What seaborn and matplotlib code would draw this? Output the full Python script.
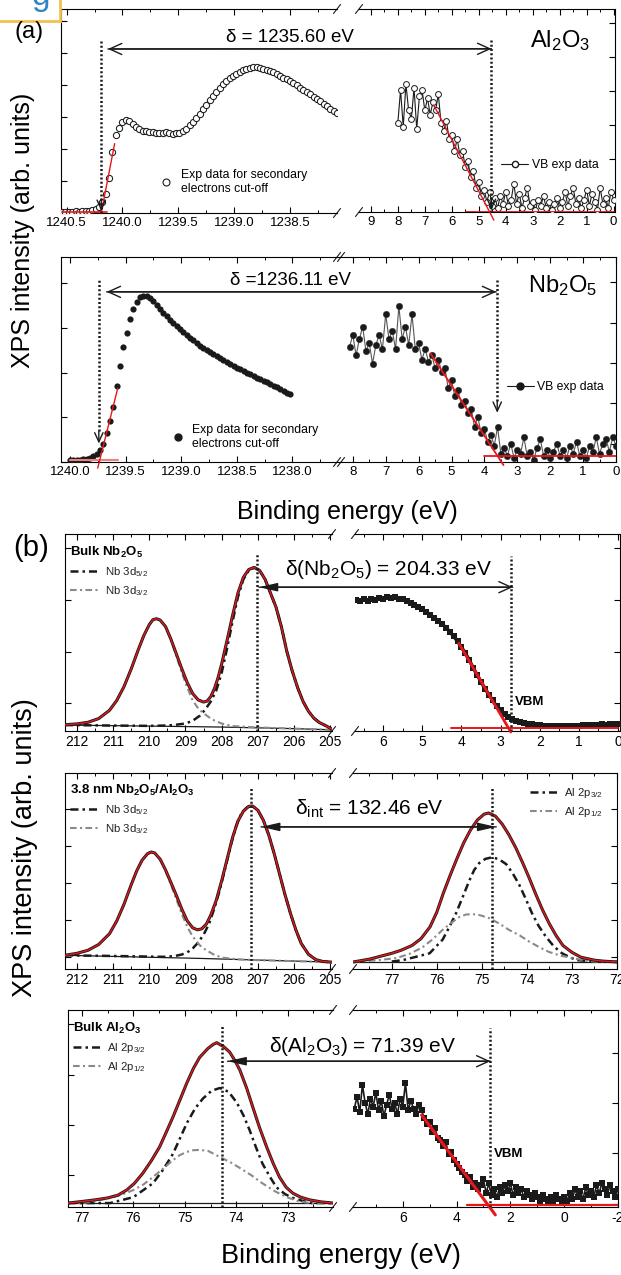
import numpy as np
import matplotlib
matplotlib.use("Agg")
import matplotlib.pyplot as plt
import seaborn as sns
from matplotlib.patches import ConnectionPatch, Rectangle
from matplotlib.lines import Line2D
from matplotlib.ticker import MultipleLocator, FormatStrFormatter, NullLocator

# ---------------------------------------------------------------- data
# (a) top: Al2O3 secondary electron cut-off (binding energy, eV)
al_cut_x = np.round(np.arange(1240.54, 1238.06, -0.03), 2)
al_cut_y = [0.6, 0.5, 0.7, 0.6, 0.8, 0.7, 0.9, 0.8, 1.0, 1.3,
            1.8, 2.8, 5.4, 9.3, 17.0, 30.0, 38.0, 41.7, 44.6, 45.6,
            45.0, 43.5, 42.0, 41.0, 40.3, 40.0, 39.6, 39.5, 39.3, 39.4,
            39.0, 39.5, 39.2, 38.8, 39.0, 39.4, 40.0, 41.3, 43.0, 44.8,
            46.5, 48.5, 50.8, 53.0, 55.3, 57.3, 59.4, 61.5, 63.0, 64.5,
            66.0, 67.3, 68.3, 69.2, 70.0, 70.7, 71.2, 71.6, 71.5, 71.0,
            70.6, 70.2, 69.6, 68.9, 68.2, 67.4, 66.3, 65.5, 64.5, 63.5,
            62.5, 61.3, 60.4, 59.2, 58.2, 57.0, 56.0, 55.0, 53.6, 52.4,
            51.0, 49.8, 48.8]
al_cut_fit_x = [1240.19, 1240.07]
al_cut_fit_y = [0.0, 34.0]
al_cut_base_x = [1240.54, 1240.14]
al_cut_base_y = [0.6, 0.6]
al_cut_onset = 1240.19

# (a) top: Al2O3 valence band
al_vb_x = np.round(np.arange(8.0, -0.05, -0.1), 1)
al_vb_y = [44, 60, 42, 63, 50, 46, 61, 41, 57, 60,
           50, 56, 48, 54, 50, 58, 44, 40, 45, 36,
           38, 30, 36, 28, 30, 22, 25, 17, 20, 12,
           15, 8, 11, 5, 10, 3, 7, 2, 8, 4,
           10, 3, 6, 14, 4, 9, 2, 7, 12, 3,
           5, 1, 6, 3, 8, 2, 5, 1, 4, 7,
           2, 5, 10, 3, 8, 12, 4, 7, 2, 6,
           11, 3, 9, 5, 1, 12, 4, 7, 2, 10,
           6]
al_vb_fit_x = [6.67, 4.44]
al_vb_fit_y = [52.7, -4.0]
al_vb_base_x = [5.48, 0.0]
al_vb_base_y = [0.2, 0.2]
al_vbm = 4.53

# (a) bottom: Nb2O5 secondary electron cut-off
nb_cut_x = np.round(np.arange(1240.0, 1237.99, -0.03), 2)
nb_cut_y = [1.0, 1.0, 1.1, 1.2, 1.3, 1.5, 2.0, 2.8, 4.0, 6.0,
            9.0, 14.0, 20.0, 27.0, 37.0, 47.0, 56.0, 63.0, 70.0, 74.5,
            78.0, 80.3, 81.2, 81.0, 80.0, 78.3, 76.5, 74.5, 72.8, 71.0,
            69.3, 67.7, 66.2, 64.7, 63.2, 61.9, 60.6, 59.3, 58.0, 56.8,
            55.7, 54.6, 53.5, 52.5, 51.5, 50.5, 49.6, 48.7, 47.8, 46.9,
            46.0, 45.2, 44.4, 43.6, 42.8, 42.0, 41.2, 40.4, 39.6, 38.8,
            38.0, 37.2, 36.4, 35.6, 34.8, 33.8, 33.0]
nb_cut_fit_x = [1239.75, 1239.57]
nb_cut_fit_y = [-3.0, 36.0]
nb_cut_base_x = [1240.0, 1239.57]
nb_cut_base_y = [1.0, 1.0]
nb_cut_onset = 1239.74

# (a) bottom: Nb2O5 valence band
nb_vb_x = np.round(np.arange(8.1, -0.05, -0.1), 1)
nb_vb_y = [56, 62, 52, 60, 66, 54, 58, 48, 57, 62,
           55, 72, 60, 64, 55, 76, 60, 66, 57, 72,
           55, 58, 50, 55, 49, 52, 46, 50, 44, 46,
           36, 40, 32, 35, 28, 30, 24, 26, 17, 22,
           14, 16, 10, 13, 8, 17, 4, 7, 3, 9,
           2, 6, 4, 12, 3, 5, 1, 7, 11, 3,
           6, 2, 5, 9, 3, 6, 2, 8, 4, 10,
           3, 6, 2, 8, 5, 12, 4, 9, 11, 5,
           12, 8]
nb_vb_fit_x = [5.64, 3.42]
nb_vb_fit_y = [53.0, -1.5]
nb_vb_base_x = [4.0, 0.0]
nb_vb_base_y = [3.0, 3.0]
nb_vbm = 3.61

# (b) row 1: bulk Nb2O5 Nb 3d
nb_bulk_env_x = [212.33, 212.0, 211.7, 211.4, 211.1, 210.9, 210.7, 210.5, 210.3, 210.15,
                 210.0, 209.9, 209.8, 209.7, 209.55, 209.4, 209.25, 209.1, 208.95, 208.8,
                 208.65, 208.5, 208.4, 208.3, 208.2, 208.1, 208.0, 207.85, 207.7, 207.55,
                 207.4, 207.25, 207.1, 206.95, 206.8, 206.65, 206.5, 206.35, 206.2, 206.05,
                 205.9, 205.75, 205.6, 205.45, 205.3, 205.1, 204.95]
nb_bulk_env_y = [3.2, 3.6, 4.4, 6.3, 10.5, 15.5, 22.5, 31.5, 41.5, 48.5,
                 54.0, 56.5, 57.0, 56.3, 53.0, 46.5, 39.0, 31.5, 24.5, 19.0,
                 15.8, 14.7, 15.2, 17.5, 21.5, 27.0, 34.0, 46.0, 58.5, 70.0,
                 78.0, 82.0, 83.0, 81.5, 77.0, 70.0, 63.0, 53.0, 40.5, 30.5,
                 22.0, 15.0, 10.0, 6.5, 4.3, 2.5, 0.8]
nb_bulk_bg_x = [212.33, 210.0, 208.0, 206.0, 204.95]
nb_bulk_bg_y = [3.0, 2.5, 2.0, 1.2, 0.6]
nb_bulk_d52_x = [212.33, 210.0, 209.5, 209.3, 209.0, 208.8, 208.6, 208.45, 208.3, 208.15,
                 208.0, 207.85, 207.7, 207.55, 207.4, 207.25, 207.1, 206.95, 206.8, 206.65,
                 206.5, 206.35, 206.2, 206.05, 205.9, 205.75, 205.6, 205.45, 205.3, 205.1,
                 204.95]
nb_bulk_d52_y = [3.0, 2.6, 2.8, 3.1, 3.8, 5.2, 7.8, 11.0, 15.0, 20.5,
                 29.5, 42.0, 55.5, 68.0, 77.0, 81.5, 83.0, 81.5, 77.0, 70.0,
                 63.0, 53.0, 40.5, 30.5, 22.0, 15.0, 10.0, 6.5, 4.3, 2.5,
                 0.8]
nb_bulk_d32_x = [212.33, 212.0, 211.7, 211.4, 211.1, 210.9, 210.7, 210.5, 210.3, 210.15,
                 210.0, 209.9, 209.8, 209.7, 209.55, 209.4, 209.25, 209.1, 208.95, 208.8,
                 208.65, 208.5, 208.35, 208.2, 208.0, 207.7, 207.0, 206.0, 204.95]
nb_bulk_d32_y = [3.2, 3.6, 4.4, 6.3, 10.5, 15.5, 22.5, 31.5, 41.5, 48.5,
                 54.0, 56.5, 57.0, 56.3, 52.8, 46.0, 38.0, 29.5, 22.0, 15.5,
                 11.5, 9.0, 7.0, 5.3, 3.8, 2.5, 1.8, 1.2, 0.6]
nb_bulk_peak = 207.03

# (b) row 1: bulk Nb2O5 valence band
nbb_vb_x = np.round(np.arange(6.7, -0.05, -0.1), 1)
nbb_vb_y = [66.5, 66.0, 66.8, 66.2, 67.0, 66.5, 67.4, 66.9, 67.8, 67.5,
            68.0, 67.2, 66.8, 66.0, 65.0, 64.0, 62.8, 61.8, 60.5, 59.0,
            57.5, 56.0, 54.5, 52.5, 50.5, 48.0, 45.5, 42.5, 39.5, 36.0,
            32.0, 28.5, 25.0, 21.5, 18.5, 15.5, 12.5, 10.5, 8.5, 7.0,
            6.0, 5.0, 4.5, 4.0, 3.6, 3.3, 3.0, 2.8, 2.7, 2.5,
            2.6, 2.4, 2.5, 2.4, 2.6, 2.5, 2.7, 2.6, 2.9, 2.8,
            3.0, 3.1, 3.0, 3.3, 3.2, 3.5, 3.4, 3.6]
nbb_vb_fit_x = [4.07, 2.74]
nbb_vb_fit_y = [44.6, -0.5]
nbb_vb_base_x = [4.28, 0.0]
nbb_vb_base_y = [1.7, 1.7]
nbb_vbm = 2.74

# (b) row 2: 3.8 nm Nb2O5/Al2O3, Nb 3d
nb_int_env_x = [212.33, 212.0, 211.7, 211.4, 211.1, 210.9, 210.7, 210.5, 210.35, 210.2,
                210.05, 209.95, 209.85, 209.7, 209.55, 209.4, 209.25, 209.1, 208.95, 208.8,
                208.67, 208.55, 208.42, 208.3, 208.15, 208.0, 207.85, 207.7, 207.55, 207.4,
                207.25, 207.15, 207.0, 206.85, 206.7, 206.55, 206.4, 206.25, 206.1, 205.95,
                205.8, 205.6, 205.4, 205.2, 204.95]
nb_int_env_y = [7.0, 8.0, 9.5, 12.5, 18.0, 24.5, 33.0, 43.0, 50.0, 55.5,
                58.8, 59.7, 59.2, 56.0, 50.5, 44.0, 37.5, 30.5, 24.5, 21.0,
                20.0, 20.5, 23.0, 27.5, 35.0, 45.0, 56.0, 67.0, 75.5, 80.5,
                83.0, 83.2, 81.0, 76.0, 68.5, 59.0, 48.5, 38.0, 28.5, 20.0,
                13.0, 7.5, 4.8, 3.8, 3.5]
nb_int_bg_x = [212.33, 208.6, 204.95]
nb_int_bg_y = [7.0, 5.4, 3.5]
nb_int_d52_x = [212.33, 210.5, 209.6, 209.3, 209.1, 208.95, 208.8, 208.65, 208.5, 208.35,
                208.2, 208.05, 207.9, 207.75, 207.6, 207.45, 207.3, 207.15, 207.0, 206.85,
                206.7, 206.55, 206.4, 206.25, 206.1, 205.95, 205.8, 205.6, 205.4, 205.2,
                204.95]
nb_int_d52_y = [7.0, 6.5, 6.2, 6.6, 7.4, 8.5, 10.5, 13.5, 17.5, 23.0,
                31.0, 40.5, 51.5, 63.0, 73.0, 79.5, 82.5, 83.2, 81.0, 76.0,
                68.5, 59.0, 48.5, 38.0, 28.5, 20.0, 13.0, 7.5, 4.8, 3.8,
                3.5]
nb_int_d32_x = [212.33, 212.0, 211.7, 211.4, 211.1, 210.9, 210.7, 210.5, 210.35, 210.2,
                210.05, 209.95, 209.85, 209.7, 209.55, 209.4, 209.25, 209.1, 208.95, 208.8,
                208.6, 208.42, 208.2, 207.98, 207.6, 207.0, 206.0, 204.95]
nb_int_d32_y = [7.0, 8.0, 9.5, 12.5, 18.0, 24.5, 33.0, 43.0, 50.0, 55.5,
                58.8, 59.7, 59.2, 56.0, 50.0, 43.0, 35.5, 28.0, 21.5, 16.5,
                12.0, 9.5, 7.2, 5.8, 5.0, 4.5, 4.0, 3.5]
nb_int_peak = 207.18

# (b) row 2: 3.8 nm Nb2O5/Al2O3, Al 2p
al_int_env_x = [77.85, 77.5, 77.2, 77.0, 76.8, 76.55, 76.35, 76.15, 76.0, 75.85,
                75.7, 75.55, 75.4, 75.25, 75.1, 74.95, 74.85, 74.7, 74.55, 74.4,
                74.25, 74.1, 73.95, 73.8, 73.65, 73.5, 73.35, 73.2, 73.0, 72.8,
                72.5, 72.3, 72.0]
al_int_env_y = [3.6, 5.0, 6.8, 8.0, 9.5, 12.0, 15.5, 21.5, 29.0, 39.0,
                48.0, 56.5, 64.5, 71.0, 76.0, 79.0, 79.6, 78.0, 74.0, 68.5,
                62.0, 54.5, 46.5, 38.0, 30.0, 23.0, 17.0, 12.0, 8.5, 6.0,
                4.5, 4.0, 3.6]
al_int_bg_x = [77.85, 72.0]
al_int_bg_y = [3.6, 3.6]
al_int_p32_x = [77.0, 76.76, 76.5, 76.16, 75.87, 75.72, 75.57, 75.42, 75.28, 75.17,
                75.06, 74.92, 74.77, 74.62, 74.46, 74.32, 74.17, 74.03, 73.89, 73.74,
                73.58, 73.4, 73.22, 73.0, 72.86, 72.5, 72.0]
al_int_p32_y = [3.8, 4.5, 6.0, 8.0, 15.0, 21.5, 28.6, 37.0, 45.0, 50.5,
                54.0, 56.2, 57.0, 56.0, 53.5, 49.0, 43.0, 36.0, 28.6, 22.0,
                16.5, 11.5, 8.0, 5.5, 4.5, 3.8, 3.6]
al_int_p12_x = [77.85, 77.3, 76.89, 76.6, 76.32, 76.1, 75.87, 75.68, 75.5, 75.35,
                75.21, 75.05, 74.84, 74.6, 74.4, 74.15, 73.95, 73.73, 73.51, 73.25,
                73.0, 72.75, 72.5, 72.0]
al_int_p12_y = [3.6, 4.5, 5.6, 7.8, 11.0, 15.0, 20.0, 23.5, 26.5, 27.8,
                28.0, 27.5, 26.0, 23.0, 20.0, 17.0, 14.0, 11.2, 8.7, 6.8,
                5.6, 4.5, 3.8, 3.6]
al_int_peak = 74.77
al_int_arrow = 74.68

# (b) row 3: bulk Al2O3, Al 2p
al_bulk_env_x = [77.27, 77.0, 76.75, 76.5, 76.3, 76.13, 75.98, 75.82, 75.65, 75.49,
                 75.36, 75.23, 75.1, 74.96, 74.83, 74.71, 74.55, 74.45, 74.38, 74.25,
                 74.13, 74.03, 73.93, 73.8, 73.68, 73.55, 73.41, 73.28, 73.16, 73.03,
                 72.9, 72.75, 72.57, 72.35, 72.12]
al_bulk_env_y = [2.0, 2.8, 3.6, 4.6, 6.0, 8.6, 12.0, 17.0, 23.5, 30.5,
                 38.0, 45.7, 54.0, 63.0, 70.5, 76.0, 80.5, 82.5, 83.4, 81.5,
                 78.7, 74.5, 69.5, 60.5, 50.8, 40.5, 30.5, 22.0, 15.2, 10.0,
                 7.0, 5.0, 3.6, 2.6, 2.0]
al_bulk_bg_x = [77.27, 72.12]
al_bulk_bg_y = [2.0, 2.0]
al_bulk_p32_x = [77.27, 76.45, 76.0, 75.62, 75.42, 75.23, 75.1, 74.96, 74.8, 74.65,
                 74.48, 74.32, 74.15, 73.99, 73.86, 73.74, 73.62, 73.49, 73.35, 73.22,
                 73.05, 72.9, 72.7, 72.54, 72.12]
al_bulk_p32_y = [2.0, 2.0, 5.0, 12.0, 19.0, 27.0, 34.5, 42.6, 50.0, 55.0,
                 59.0, 60.4, 58.5, 53.0, 46.5, 39.0, 30.5, 22.0, 15.5, 10.0,
                 6.5, 4.6, 3.0, 2.0, 2.0]
al_bulk_p12_x = [77.27, 76.98, 76.7, 76.45, 76.2, 76.0, 75.8, 75.62, 75.42, 75.23,
                 75.1, 74.96, 74.84, 74.71, 74.55, 74.32, 74.1, 73.93, 73.7, 73.49,
                 73.25, 73.02, 72.8, 72.57, 72.12]
al_bulk_p12_y = [2.0, 2.0, 3.2, 4.6, 6.5, 8.6, 11.5, 15.2, 19.5, 23.8,
                 26.3, 28.0, 28.8, 29.0, 28.5, 25.4, 22.5, 19.8, 16.0, 12.0,
                 8.0, 5.0, 3.0, 2.0, 2.0]
al_bulk_peak = 74.28

# (b) row 3: bulk Al2O3 valence band
alb_vb_x = np.round(np.arange(7.8, -2.05, -0.1), 1)
alb_vb_y = [50, 56, 48, 62, 53, 47, 55, 51, 58, 49,
            54, 46, 52, 57, 50, 53, 47, 55, 51, 63,
            49, 54, 50, 47, 52, 49, 45, 42, 43, 38,
            40, 35, 34, 31, 33, 27, 28, 24, 22, 20,
            18, 16, 13, 15, 10, 12, 9, 11, 14, 7,
            12, 6, 9, 5, 10, 7, 11, 8, 12, 6,
            10, 7, 9, 5, 8, 6, 4, 7, 5, 3,
            6, 4, 2, 5, 3, 6, 4, 2, 5, 3,
            7, 4, 9, 5, 8, 4, 10, 6, 8, 5,
            11, 7, 12, 9, 6, 11, 8, 5, 9]
alb_vb_fit_x = [5.3, 2.56]
alb_vb_fit_y = [46.7, -4.0]
alb_vb_base_x = [3.6, -2.0]
alb_vb_base_y = [1.0, 1.0]
alb_vbm = 2.74

# ---------------------------------------------------------------- style
sns.set_theme(style="ticks")
plt.rcParams["font.family"] = ["Liberation Sans", "DejaVu Sans"]
plt.rcParams["mathtext.fontset"] = "custom"
plt.rcParams["mathtext.rm"] = "Liberation Sans"
plt.rcParams["mathtext.it"] = "Liberation Sans:italic"
plt.rcParams["mathtext.bf"] = "Liberation Sans:bold"
plt.rcParams["axes.linewidth"] = 0.8
plt.rcParams["axes.edgecolor"] = "black"
plt.rcParams["text.color"] = "black"
plt.rcParams["xtick.color"] = "black"
plt.rcParams["ytick.color"] = "black"

RED = "#e8161b"
GRAY = "#8a8a8a"
DASHDOT = (0, (3.2, 1.6, 1.0, 1.6))

W, H = 621, 1275
fig = plt.figure(figsize=(W / 100, H / 100), dpi=100)


def box(l, t, r, b):
    return [l / W, 1 - b / H, (r - l) / W, (b - t) / H]


def fx(px):
    return px / W


def fy(py):
    return 1 - py / H


axA1L = fig.add_axes(box(61, 9, 337, 213))
axA1R = fig.add_axes(box(359, 9, 615, 212))
axA2L = fig.add_axes(box(61, 257, 337, 462))
axA2R = fig.add_axes(box(338, 257, 616, 462))
axB1L = fig.add_axes(box(65, 534, 332, 731))
axB1R = fig.add_axes(box(355, 534, 620, 731))
axB2L = fig.add_axes(box(65, 773, 332, 969))
axB2R = fig.add_axes(box(353, 773, 617, 969))
axB3L = fig.add_axes(box(68, 1010, 333, 1207))
axB3R = fig.add_axes(box(353, 1010, 618, 1207))


def style(ax, side, xlim, major, minor, fmt, fs, ystep, yoff):
    ax.set_xlim(*xlim)
    ax.set_ylim(0, 100)
    ax.xaxis.set_major_locator(MultipleLocator(major))
    ax.xaxis.set_minor_locator(MultipleLocator(minor))
    ax.xaxis.set_major_formatter(FormatStrFormatter(fmt))
    ax.yaxis.set_major_locator(MultipleLocator(ystep, offset=yoff))
    ax.yaxis.set_minor_locator(NullLocator())
    ax.tick_params(axis="x", which="both", direction="in", top=True, bottom=True,
                   labelsize=fs, pad=3)
    ax.tick_params(which="major", length=4, width=0.8)
    ax.tick_params(which="minor", length=2.2, width=0.7)
    if side == "left":
        ax.spines["right"].set_visible(False)
        ax.tick_params(axis="y", direction="in", left=True, right=False,
                       labelleft=False, labelright=False)
    else:
        ax.spines["left"].set_visible(False)
        ax.tick_params(axis="y", direction="in", left=False, right=True,
                       labelleft=False, labelright=False)
    for sp in ax.spines.values():
        sp.set_color("black")
    ax.set_xlabel("")
    ax.set_ylabel("")
    ax.patch.set_alpha(0)


def brk(ax, where, shift_px=0):
    bb = ax.get_position()
    wpx, hpx = bb.width * W, bb.height * H
    dx, dy = 3.5 / wpx, 4.5 / hpx
    x0 = (1.0 if where == "right" else 0.0) + shift_px / wpx
    for y0 in (0.0, 1.0):
        ax.plot([x0 - dx, x0 + dx], [y0 - dy, y0 + dy], transform=ax.transAxes,
                color="k", lw=0.8, clip_on=False)


style(axA1L, "left", (1240.55, 1238.08), 0.5, 0.25, "%.1f", 9.5, 15.7, 0)
style(axA1R, "right", (9.44, -0.05), 1, 0.5, "%g", 9.5, 16.75, 9.4)
style(axA2L, "left", (1240.08, 1237.6), 0.5, 0.25, "%.1f", 9.5, 21.8, 0)
style(axA2R, "right", (8.45, 0.0), 1, 0.5, "%g", 9.5, 19.7, 8.9)
style(axB1L, "left", (212.33, 204.95), 1, 0.5, "%g", 10, 26.3, 14)
style(axB1R, "right", (6.72, -0.05), 1, 0.5, "%g", 10, 26.3, 14)
style(axB2L, "left", (212.33, 204.95), 1, 0.5, "%g", 10, 18.9, 6)
style(axB2R, "right", (77.86, 72.0), 1, 0.5, "%g", 10, 18.9, 6)
style(axB3L, "left", (77.27, 72.12), 1, 0.5, "%g", 10, 25.6, 16)
style(axB3R, "right", (7.85, -2.0), 2, 1, "%g", 10, 25.6, 1.6)

for axl, axr in ((axA1L, axA1R), (axB1L, axB1R), (axB2L, axB2R), (axB3L, axB3R)):
    brk(axl, "right")
    brk(axr, "left")
brk(axA2L, "right")
brk(axA2R, "left", shift_px=3)


def line(ax, x, y, **kw):
    sns.lineplot(x=np.asarray(x, float), y=np.asarray(y, float), ax=ax,
                 sort=False, estimator=None, legend=False, **kw)


def vdot(ax, x, ytop, ybot=0.0, lw=1.8):
    ax.vlines(x, ybot, ytop, colors="k", linestyles=(0, (0.8, 0.9)), lw=lw, zorder=6)


def down_tip(ax, x, ytip):
    ax.annotate("", xy=(x, ytip), xytext=(x, ytip + 6),
                arrowprops=dict(arrowstyle="->,head_length=0.55,head_width=0.25",
                                lw=1.0, color="k", shrinkA=0, shrinkB=0,
                                mutation_scale=12), zorder=7)


def harrow(axL, xL, axR, xR, y, left="open", right="open"):
    lst = "<|-,head_length=0.7,head_width=0.16" if left == "filled" else "<-,head_length=0.55,head_width=0.25"
    rst = "-|>,head_length=0.7,head_width=0.16" if right == "filled" else "->,head_length=0.55,head_width=0.25"
    for st in (lst, rst):
        con = ConnectionPatch(xyA=(xL, y), xyB=(xR, y), coordsA="data", coordsB="data",
                              axesA=axL, axesB=axR, arrowstyle=st, mutation_scale=16,
                              lw=1.0, color="k", shrinkA=0, shrinkB=0, zorder=8)
        fig.add_artist(con)


# ---------------------------------------------------------------- (a) top
sns.scatterplot(x=al_cut_x, y=al_cut_y, ax=axA1L, marker="o", s=20, color="white",
                edgecolor="k", linewidth=0.75, zorder=3, legend=False)
line(axA1L, al_cut_base_x, al_cut_base_y, color=RED, lw=1.2, zorder=4)
line(axA1L, al_cut_fit_x, al_cut_fit_y, color=RED, lw=1.0, zorder=4, clip_on=False)
vdot(axA1L, al_cut_onset, 84.8)
down_tip(axA1L, al_cut_onset, 1.0)

line(axA1R, al_vb_x, al_vb_y, color="k", lw=0.8, marker="o", markersize=4.2,
     markerfacecolor="white", markeredgecolor="k", markeredgewidth=0.7, zorder=3)
line(axA1R, al_vb_base_x, al_vb_base_y, color=RED, lw=1.3, zorder=4)
line(axA1R, al_vb_fit_x, al_vb_fit_y, color=RED, lw=1.0, zorder=4, clip_on=False)
vdot(axA1R, al_vbm, 85.7)
down_tip(axA1R, al_vbm, 1.0)
harrow(axA1L, 1240.13, axA1R, al_vbm, 80.4)

axA1L.legend(handles=[Line2D([], [], ls="none", marker="o", markersize=5,
                             markerfacecolor="white", markeredgecolor="k", markeredgewidth=0.8)],
             labels=["Exp data for secondary\nelectrons cut-off"], loc="upper left",
             bbox_to_anchor=(0.36, 0.215), frameon=False, fontsize=8.8,
             handlelength=1.0, handletextpad=0.7, borderpad=0, borderaxespad=0)
axA1R.legend(handles=[Line2D([], [], color="k", lw=0.8, marker="o", markersize=4.5,
                             markerfacecolor="white", markeredgecolor="k")],
             labels=["VB exp data"], loc="center left", bbox_to_anchor=(0.555, 0.232),
             frameon=False, fontsize=8.8, handlelength=2.2, handletextpad=0.3,
             borderpad=0, borderaxespad=0)

# ---------------------------------------------------------------- (a) bottom
sns.scatterplot(x=nb_cut_x, y=nb_cut_y, ax=axA2L, marker="o", s=20, color="k",
                linewidth=0, zorder=3, legend=False)
line(axA2L, nb_cut_base_x, nb_cut_base_y, color="#f07f7f", lw=1.5, zorder=4)
line(axA2L, nb_cut_fit_x, nb_cut_fit_y, color=RED, lw=1.0, zorder=4, clip_on=False)
vdot(axA2L, nb_cut_onset, 89.0, 15.0)
down_tip(axA2L, nb_cut_onset, 9.0)

line(axA2R, nb_vb_x, nb_vb_y, color="#555555", lw=0.8, marker="o", markersize=4.6,
     markerfacecolor="k", markeredgecolor="k", markeredgewidth=0.3, zorder=3)
line(axA2R, nb_vb_base_x, nb_vb_base_y, color=RED, lw=1.3, zorder=4)
line(axA2R, nb_vb_fit_x, nb_vb_fit_y, color=RED, lw=1.3, zorder=4, clip_on=False)
vdot(axA2R, nb_vbm, 89.0, 30.0)
down_tip(axA2R, nb_vbm, 24.0)
harrow(axA2L, 1239.67, axA2R, 3.64, 83.0)

axA2L.legend(handles=[Line2D([], [], ls="none", marker="o", markersize=5,
                             markerfacecolor="k", markeredgecolor="k")],
             labels=["Exp data for secondary\nelectrons cut-off"], loc="upper left",
             bbox_to_anchor=(0.4, 0.185), frameon=False, fontsize=8.8,
             handlelength=1.0, handletextpad=0.7, borderpad=0, borderaxespad=0)
axA2R.legend(handles=[Line2D([], [], color="k", lw=0.8, marker="o", markersize=5,
                             markerfacecolor="k", markeredgecolor="k")],
             labels=["VB exp data"], loc="center left", bbox_to_anchor=(0.607, 0.366),
             frameon=False, fontsize=8.8, handlelength=2.2, handletextpad=0.3,
             borderpad=0, borderaxespad=0)


# ---------------------------------------------------------------- (b) helpers
def core_panel(ax, env_x, env_y, bg_x, bg_y, c1_x, c1_y, c2_x, c2_y):
    line(ax, bg_x, bg_y, color="k", lw=0.9, zorder=2)
    line(ax, c1_x, c1_y, color="k", lw=1.8, linestyle=DASHDOT, zorder=3)
    line(ax, c2_x, c2_y, color=GRAY, lw=1.5, linestyle=DASHDOT, zorder=3)
    line(ax, env_x, env_y, color="k", lw=2.2, zorder=4)
    line(ax, env_x, env_y, color=RED, lw=1.0, zorder=5)


def comp_legend(ax, title, labels, anchor):
    h = [Line2D([], [], color="k", lw=1.8, linestyle=DASHDOT),
         Line2D([], [], color=GRAY, lw=1.5, linestyle=DASHDOT)]
    kw = dict(loc="upper left", bbox_to_anchor=anchor, frameon=False, fontsize=8.2,
              handlelength=2.4, handletextpad=0.6, labelspacing=0.45, borderpad=0,
              borderaxespad=0, alignment="left")
    if title:
        kw.update(title=title, title_fontproperties={"weight": "bold", "size": 9.5})
    leg = ax.legend(handles=h, labels=labels, **kw)
    for t in leg.get_texts():
        t.set_color("#222222")
    return leg


# ---------------------------------------------------------------- (b) row 1
core_panel(axB1L, nb_bulk_env_x, nb_bulk_env_y, nb_bulk_bg_x, nb_bulk_bg_y,
           nb_bulk_d52_x, nb_bulk_d52_y, nb_bulk_d32_x, nb_bulk_d32_y)
vdot(axB1L, nb_bulk_peak, 90.0)
comp_legend(axB1L, r"Bulk Nb$_\mathbf{2}$O$_\mathbf{5}$",
            [r"Nb 3d$_{5/2}$", r"Nb 3d$_{3/2}$"], (0.02, 0.945))

sns.scatterplot(x=nbb_vb_x, y=nbb_vb_y, ax=axB1R, marker="s", s=14, color="k",
                linewidth=0, zorder=3, legend=False)
line(axB1R, nbb_vb_x, nbb_vb_y, color="k", lw=2.5, zorder=3)
line(axB1R, nbb_vb_base_x, nbb_vb_base_y, color=RED, lw=1.4, zorder=4)
line(axB1R, nbb_vb_fit_x, nbb_vb_fit_y, color=RED, lw=2.0, zorder=4, clip_on=False)
vdot(axB1R, nbb_vbm, 89.0)
axB1R.text(2.63, 14.7, "VBM", fontsize=9.5, fontweight="bold", ha="left", va="center")
harrow(axB1L, 206.97, axB1R, 2.69, 73.0, left="filled", right="open")

# ---------------------------------------------------------------- (b) row 2
core_panel(axB2L, nb_int_env_x, nb_int_env_y, nb_int_bg_x, nb_int_bg_y,
           nb_int_d52_x, nb_int_d52_y, nb_int_d32_x, nb_int_d32_y)
vdot(axB2L, nb_int_peak, 93.0)
comp_legend(axB2L, r"3.8 nm Nb$_\mathbf{2}$O$_\mathbf{5}$/Al$_\mathbf{2}$O$_\mathbf{3}$",
            [r"Nb 3d$_{5/2}$", r"Nb 3d$_{3/2}$"], (0.02, 0.948))

core_panel(axB2R, al_int_env_x, al_int_env_y, al_int_bg_x, al_int_bg_y,
           al_int_p32_x, al_int_p32_y, al_int_p12_x, al_int_p12_y)
vdot(axB2R, al_int_peak, 93.0)
comp_legend(axB2R, None, [r"Al 2p$_{3/2}$", r"Al 2p$_{1/2}$"], (0.67, 0.935))
harrow(axB2L, 206.91, axB2R, al_int_arrow, 72.5, left="filled", right="filled")

# ---------------------------------------------------------------- (b) row 3
core_panel(axB3L, al_bulk_env_x, al_bulk_env_y, al_bulk_bg_x, al_bulk_bg_y,
           al_bulk_p32_x, al_bulk_p32_y, al_bulk_p12_x, al_bulk_p12_y)
vdot(axB3L, al_bulk_peak, 92.0)
comp_legend(axB3L, r"Bulk Al$_\mathbf{2}$O$_\mathbf{3}$",
            [r"Al 2p$_{3/2}$", r"Al 2p$_{1/2}$"], (0.02, 0.945))

sns.scatterplot(x=alb_vb_x, y=alb_vb_y, ax=axB3R, marker="s", s=22, color="k",
                linewidth=0, zorder=3, legend=False)
line(axB3R, alb_vb_x, alb_vb_y, color="k", lw=1.2, zorder=3)
line(axB3R, alb_vb_base_x, alb_vb_base_y, color=RED, lw=1.6, zorder=4)
line(axB3R, alb_vb_fit_x, alb_vb_fit_y, color=RED, lw=2.2, zorder=4, clip_on=False)
vdot(axB3R, alb_vbm, 91.0)
axB3R.text(2.63, 27.0, "VBM", fontsize=9.5, fontweight="bold", ha="left", va="center")
harrow(axB3L, 74.17, axB3R, alb_vbm, 74.0, left="filled", right="open")

# ---------------------------------------------------------------- text
fig.text(fx(290), fy(42), "δ = 1235.60 eV", fontsize=13.5, ha="center", va="baseline")
fig.text(fx(560), fy(47), r"Al$_2$O$_3$", fontsize=17, ha="center", va="baseline")
fig.text(fx(291), fy(285), "δ =1236.11 eV", fontsize=13.5, ha="center", va="baseline")
fig.text(fx(563), fy(292), r"Nb$_2$O$_5$", fontsize=17, ha="center", va="baseline")
fig.text(fx(389), fy(575), r"δ(Nb$_2$O$_5$) = 204.33 eV", fontsize=15, ha="center", va="baseline")
fig.text(fx(369), fy(815), r"δ$_{\mathrm{int}}$ = 132.46 eV", fontsize=15, ha="center", va="baseline")
fig.text(fx(363), fy(1052), r"δ(Al$_2$O$_3$) = 71.39 eV", fontsize=15, ha="center", va="baseline")

fig.text(fx(347), fy(519), "Binding energy (eV)", fontsize=18, ha="center", va="baseline")
fig.text(fx(341), fy(1263), "Binding energy (eV)", fontsize=19.5, ha="center", va="baseline")
fig.text(fx(23), fy(230), "XPS intensity (arb. units)", fontsize=18, rotation=90,
         ha="center", va="center")
fig.text(fx(25), fy(848), "XPS intensity (arb. units)", fontsize=19.5, rotation=90,
         ha="center", va="center")
fig.text(fx(29), fy(32), "(a)", fontsize=17, ha="center", va="center", zorder=25)
fig.text(fx(31), fy(548), "(b)", fontsize=21, ha="center", va="center")

# cropped page header fragment at top-left
fig.add_artist(Rectangle((fx(-10), fy(21)), 70 / W, 40 / H, transform=fig.transFigure,
                         facecolor="white", edgecolor="#f2c14e", lw=2.0, zorder=20))
fig.text(fx(41), fy(5), "g", fontsize=24, color="#2f86c3", ha="center", va="baseline",
         zorder=21)

fig.savefig("out.png", dpi=100)
